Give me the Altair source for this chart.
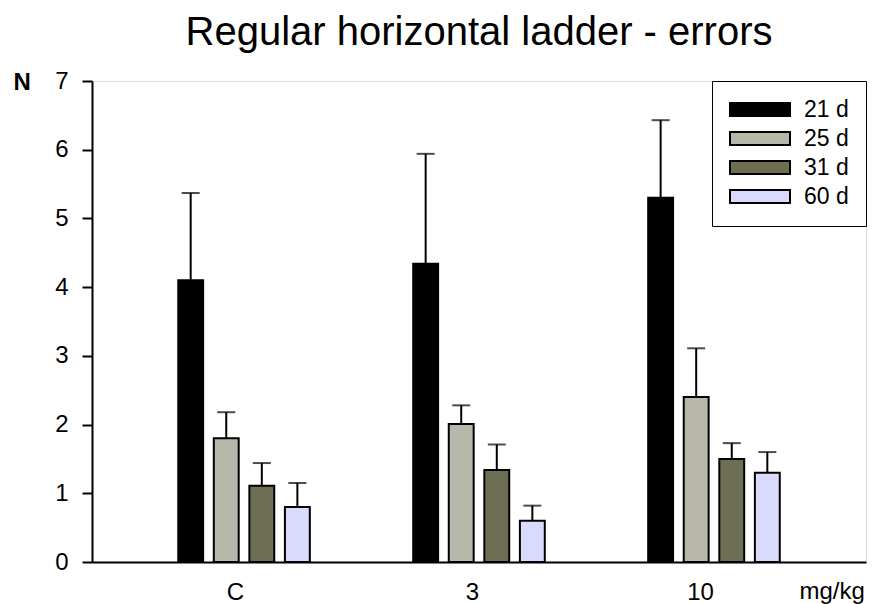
import altair as alt
import pandas as pd

groups = ["C", "3", "10"]
series = ["21 d", "25 d", "31 d", "60 d"]
colors = ["#000000", "#b8b8aa", "#6e6e54", "#dadafc"]

mean_C = [4.10, 1.80, 1.11, 0.80]
mean_3 = [4.34, 2.01, 1.34, 0.60]
mean_10 = [5.30, 2.40, 1.50, 1.30]

upper_C = [5.37, 2.18, 1.44, 1.15]
upper_3 = [5.94, 2.28, 1.71, 0.82]
upper_10 = [6.43, 3.11, 1.73, 1.60]

y_ticks = [0, 1, 2, 3, 4, 5, 6, 7]

rows = []
for g, means, ups in zip(groups, [mean_C, mean_3, mean_10], [upper_C, upper_3, upper_10]):
    for s, m, u in zip(series, means, ups):
        rows.append({"dose": g, "age": s, "mean": m, "upper": u})
df = pd.DataFrame(rows)

FONT = "Liberation Sans"

x_enc = alt.X(
    "dose:N",
    sort=groups,
    scale=alt.Scale(paddingInner=0.44, paddingOuter=0.367),
    axis=alt.Axis(
        title="mg/kg",
        titleX=707,
        titleY=36,
        titleAlign="left",
        titleBaseline="alphabetic",
        titleFontSize=24,
        titleFontWeight="normal",
        titleFont=FONT,
        titleColor="black",
        labelAngle=0,
        labelFontSize=24,
        labelFont=FONT,
        labelColor="black",
        labelBaseline="alphabetic",
        labelPadding=37,
        ticks=False,
        tickSize=0,
        domainColor="black",
        domainWidth=2,
        grid=False,
    ),
)
xoff = alt.XOffset("age:N", sort=series, scale=alt.Scale(paddingInner=0.3, paddingOuter=0))

y_scale = alt.Scale(domain=[0, 7], nice=False)
y_axis = alt.Axis(
    title="N",
    titleAngle=0,
    titleX=-79,
    titleY=8,
    titleAlign="left",
    titleBaseline="alphabetic",
    titleFontSize=24,
    titleFontWeight="bold",
    titleFont=FONT,
    titleColor="black",
    values=y_ticks,
    format="d",
    labelFontSize=24,
    labelFont=FONT,
    labelColor="black",
    labelPadding=14,
    tickSize=10,
    tickWidth=2,
    tickColor="black",
    domainColor="black",
    domainWidth=2,
    grid=False,
)

bars = alt.Chart(df).mark_bar(stroke="black", strokeWidth=2).encode(
    x=x_enc,
    xOffset=xoff,
    y=alt.Y("mean:Q", scale=y_scale, axis=y_axis),
    fill=alt.Fill(
        "age:N",
        sort=series,
        scale=alt.Scale(domain=series, range=colors),
        legend=alt.Legend(
            title=None,
            orient="top-right",
            offset=0,
            symbolType="M-1,-0.217H1V0.217H-1Z",
            symbolSize=3600,
            symbolStrokeColor="black",
            symbolStrokeWidth=2,
            symbolOpacity=1,
            clipHeight=23,
            labelFontSize=23,
            labelFont=FONT,
            labelColor="black",
            labelOffset=13,
            labelLimit=300,
            padding=17,
            rowPadding=5,
            strokeColor="black",
            fillColor="white",
        ),
    ),
)

rules = alt.Chart(df).mark_rule(color="black", strokeWidth=2).encode(
    x=alt.X("dose:N", sort=groups),
    xOffset=alt.XOffset("age:N", sort=series),
    y=alt.Y("mean:Q"),
    y2="upper:Q",
)

caps = alt.Chart(df).mark_tick(color="black", thickness=2, size=18, orient="horizontal").encode(
    x=alt.X("dose:N", sort=groups),
    xOffset=alt.XOffset("age:N", sort=series),
    y=alt.Y("upper:Q"),
)

chart = (
    alt.layer(rules, caps, bars)
    .properties(
        width=774,
        height=481,
        autosize=alt.AutoSizeParams(type="none"),
        padding={"left": 84, "top": 73, "right": 6, "bottom": 42},
        title=alt.TitleParams(
            text="Regular horizontal ladder - errors",
            fontSize=40,
            font=FONT,
            fontWeight="normal",
            color="black",
            anchor="middle",
            baseline="bottom",
            offset=28,
            dy=52,
        ),
    )
    .configure_view(stroke="black", strokeWidth=2)
    .configure(background="white")
)

chart.save("out.html", embed_options={"renderer": "svg", "actions": False})
